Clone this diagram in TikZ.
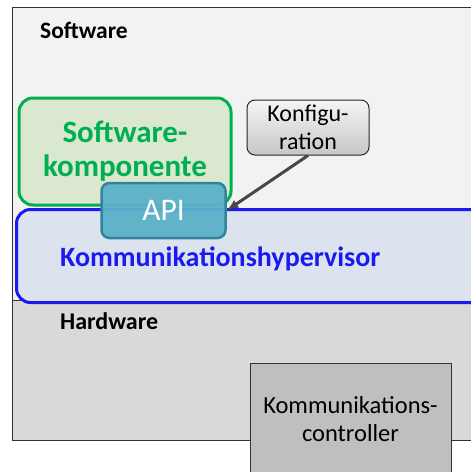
\documentclass[tikz,border=0pt]{standalone}
\usepackage{fontspec}
\setmainfont{Carlito}
\usetikzlibrary{positioning}

\definecolor{swfill}{HTML}{F2F2F2}
\definecolor{hwfill}{HTML}{D9D9D9}
\definecolor{compgreen}{HTML}{00B050}
\definecolor{compfill}{HTML}{D9E8CF}
\definecolor{hvblue}{HTML}{1A1AF0}
\definecolor{hvfill}{HTML}{DCE3EE}
\definecolor{apifill}{HTML}{5BB1C8}
\definecolor{apiline}{HTML}{31849B}
\definecolor{ctrlfill}{HTML}{BFBFBF}

\tikzset{
  layer/.style={draw=black!80, line width=0.8pt, anchor=north west, inner sep=0pt},
  blockbox/.style={rounded corners=14pt, line width=3pt, align=center, inner sep=0pt},
  smallbox/.style={rounded corners=8pt, align=center, inner sep=0pt, font=\fontsize{24}{28}\selectfont}
}

\begin{document}
\begin{tikzpicture}[>=latex, x=1pt, y=-1pt]  % 1 unit = 1 pixel, y nach unten
  \useasboundingbox (0,0) rectangle (471,472);
  \clip (0,0) rectangle (471,472);
  \fill[white] (0,0) rectangle (471,472);

  % Schichten: Software oben, Hardware unten
  \node[layer, fill=swfill, minimum width=480pt, minimum height=293pt] (sw) at (12,7) {};
  \node[layer, fill=hwfill, minimum width=480pt, minimum height=140pt] (hw) at (12,300) {};
  \node[anchor=west, inner sep=0pt, font=\fontsize{23.5}{28}\selectfont\bfseries] (swlabel) at (40,30) {Software};
  \node[anchor=west, inner sep=0pt, font=\fontsize{24}{28}\selectfont\bfseries] (hwlabel) at (60,321) {Hardware};

  % Softwarekomponente und Hypervisor
  \node[blockbox, draw=compgreen, fill=compfill, text=compgreen,
        minimum width=212pt, minimum height=107pt,
        font=\fontsize{31}{34}\selectfont\bfseries] (comp) at (125,151.5) {Software-\\komponente};
  \node[blockbox, draw=hvblue, fill=hvfill, anchor=north west,
        minimum width=470pt, minimum height=93pt] (hv) at (15,208) {};
  \node[anchor=west, inner sep=0pt, text=hvblue, font=\fontsize{28}{32}\selectfont\bfseries] (hvlabel) at (60,259) {Kommunikationshypervisor};

  % API (halb durchsichtig ueber beiden Boxen)
  \node[smallbox, draw=apiline, fill=apifill, fill opacity=0.95, text opacity=1, line width=2.5pt,
        text=white, minimum width=124pt, minimum height=55pt,
        font=\fontsize{31.5}{34}\selectfont] (api) at (163.5,210.5) {API};

  % Konfiguration
  \node[smallbox, draw=black!85, line width=1pt, top color=white!96!black, bottom color=black!22,
        minimum width=122pt, minimum height=55pt] (konf) at (308,127.5) {Konfigu-\\ration};
  \draw[->, line width=3pt, draw=black!72] (konf.south) -- (api.east);

  % Kommunikationscontroller
  \node[layer, anchor=north, fill=ctrlfill, minimum width=201pt, minimum height=112pt,
        font=\fontsize{24.5}{28}\selectfont, align=center] (ctrl) at (350.5,363) {Kommunikations-\\controller};
\end{tikzpicture}
\end{document}
